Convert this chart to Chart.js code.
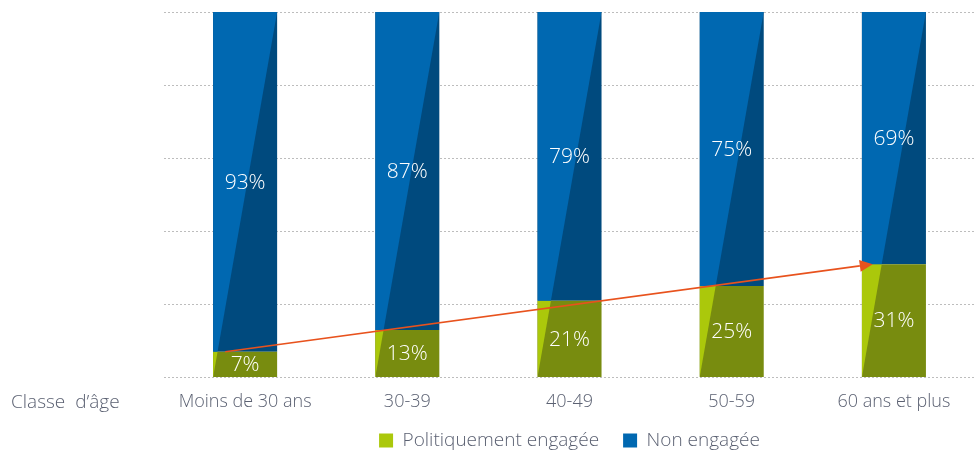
<!DOCTYPE html>
<html lang="fr">
<head>
  <meta charset="UTF-8" />
  <title>Engagement politique par classe d'âge</title>
  <script src="https://cdn.jsdelivr.net/npm/chart.js"></script>
  <style>
    html, body { margin: 0; padding: 0; background: #fff; }
    .wrap { width: 979px; height: 457px; position: relative; }
  </style>
</head>
<body>
  <div class="wrap"><canvas id="chart"></canvas></div>
  <script>
    const categories = ['Moins de 30 ans', '30-39', '40-49', '50-59', '60 ans et plus'];
    const engagee = [7, 13, 21, 25, 31];
    const nonEngagee = [93, 87, 79, 75, 69];
    const axisTitle = 'Classe  d\u2019âge';

    const greenLight = '#abc80b';
    const greenDark = '#788c0f';
    const blueLight = '#0068b1';
    const blueDark = '#004a7e';
    const textGrey = '#5b6172';
    const fontFamily = "'Open Sans', 'Noto Sans', sans-serif";

    // keep the legend compact but with wide spacing between its items
    const legendFit = {
      id: 'legendFit',
      afterInit(chart) {
        const lg = chart.legend;
        const fit = lg.fit;
        lg.fit = function () { fit.call(this); this.height = 30; };
      },
      afterLayout(chart) {
        chart.legend.top -= 20;
        chart.legend.bottom = chart.height;
      }
    };

    // two-tone bars: dark fill from Chart.js, light triangle on top-left
    const twoTone = {
      id: 'twoTone',
      afterDatasetsDraw(chart) {
        const ctx = chart.ctx;
        const yScale = chart.scales.y;
        const top = yScale.getPixelForValue(100);
        const bottom = yScale.getPixelForValue(0);
        const lights = [greenLight, blueLight];
        chart.data.datasets.forEach((ds, di) => {
          chart.getDatasetMeta(di).data.forEach((bar) => {
            const left = bar.x - bar.width / 2;
            const right = bar.x + bar.width / 2;
            const yTop = Math.min(bar.y, bar.base);
            const yBot = Math.max(bar.y, bar.base);
            ctx.save();
            ctx.beginPath();
            ctx.rect(left, yTop, right - left, yBot - yTop);
            ctx.clip();
            ctx.beginPath();
            ctx.moveTo(left, bottom);
            ctx.lineTo(left, top);
            ctx.lineTo(right, top);
            ctx.closePath();
            ctx.fillStyle = lights[di];
            ctx.fill();
            ctx.restore();
          });
        });

        // value labels
        ctx.save();
        ctx.fillStyle = '#ffffff';
        ctx.font = '300 21px ' + fontFamily;
        ctx.textAlign = 'center';
        ctx.textBaseline = 'middle';
        chart.data.datasets.forEach((ds, di) => {
          chart.getDatasetMeta(di).data.forEach((bar, i) => {
            ctx.fillText(ds.data[i] + '%', bar.x, (bar.y + bar.base) / 2 + 1);
          });
        });
        ctx.restore();

        // trend arrow across the tops of the green segments
        const meta = chart.getDatasetMeta(0).data;
        const first = meta[0], last = meta[meta.length - 1];
        const x0 = first.x - first.width * 0.31;
        const y0 = yScale.getPixelForValue(engagee[0]);
        const x1 = last.x - last.width * 0.33;
        const y1 = yScale.getPixelForValue(engagee[engagee.length - 1]);
        const ang = Math.atan2(y1 - y0, x1 - x0);
        const headLen = 13, headW = 6;
        ctx.save();
        ctx.strokeStyle = '#e8521d';
        ctx.fillStyle = '#e8521d';
        ctx.lineWidth = 1.6;
        ctx.beginPath();
        ctx.moveTo(x0, y0);
        ctx.lineTo(x1 - headLen * Math.cos(ang), y1 - headLen * Math.sin(ang));
        ctx.stroke();
        ctx.beginPath();
        ctx.moveTo(x1, y1);
        ctx.lineTo(x1 - headLen * Math.cos(ang) - headW * Math.sin(ang), y1 - headLen * Math.sin(ang) + headW * Math.cos(ang));
        ctx.lineTo(x1 - headLen * Math.cos(ang) + headW * Math.sin(ang), y1 - headLen * Math.sin(ang) - headW * Math.cos(ang));
        ctx.closePath();
        ctx.fill();
        ctx.restore();

        // axis caption on the left
        ctx.save();
        ctx.fillStyle = textGrey;
        ctx.font = '300 19px ' + fontFamily;
        ctx.textAlign = 'left';
        ctx.textBaseline = 'middle';
        ctx.fillText(axisTitle, 11, bottom + 25);
        ctx.restore();
      }
    };

    new Chart(document.getElementById('chart'), {
      type: 'bar',
      data: {
        labels: categories,
        datasets: [
          { label: 'Politiquement engagée', data: engagee, backgroundColor: greenDark, legendColor: greenLight },
          { label: 'Non engagée', data: nonEngagee, backgroundColor: blueDark, legendColor: blueLight }
        ]
      },
      options: {
        responsive: true,
        maintainAspectRatio: false,
        animation: false,
        barPercentage: 0.395,
        categoryPercentage: 1,
        layout: { padding: { left: 164, right: 4, top: 12, bottom: 0 } },
        plugins: {
          tooltip: { enabled: false },
          legend: {
            position: 'bottom',
            labels: {
              color: textGrey,
              font: { size: 19, weight: '300', family: fontFamily },
              boxWidth: 14,
              boxHeight: 14,
              padding: 24,
              generateLabels(chart) {
                return chart.data.datasets.map((ds, i) => ({
                  text: ds.label,
                  fillStyle: ds.legendColor,
                  strokeStyle: ds.legendColor,
                  lineWidth: 0,
                  fontColor: textGrey,
                  datasetIndex: i
                }));
              }
            }
          }
        },
        scales: {
          x: {
            stacked: true,
            grid: { display: false, drawTicks: false },
            border: { display: false },
            ticks: { color: textGrey, font: { size: 18, weight: '300', family: fontFamily }, padding: 14 }
          },
          y: {
            stacked: true,
            min: 0,
            max: 100,
            ticks: { stepSize: 20, display: false },
            border: { display: false, dash: [2, 2] },
            grid: { color: '#bdbdbd', lineWidth: 1, drawTicks: false },
            afterFit(scale) { scale.width = 0; }
          }
        }
      },
      plugins: [legendFit, twoTone]
    });
  </script>
</body>
</html>
